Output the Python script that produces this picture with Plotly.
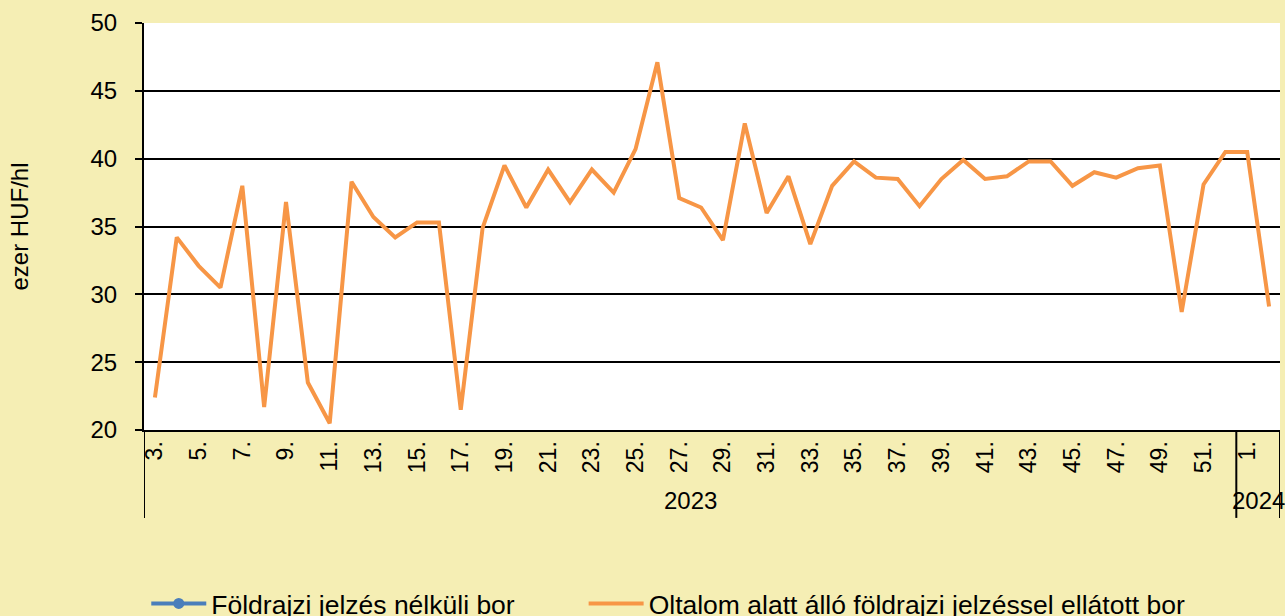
import plotly.graph_objects as go

# weeks (2023: 3-52, 2024: 1-2)
years = ['2023'] * 50 + ['2024'] * 2
weeks = [f'{w}.' for w in range(3, 53)] + ['1.', '2.']

# ezer HUF/hl
no_gi_wine = [None] * 52
pgi_wine = [22.4, 34.2, 32.1, 30.5, 38.0, 21.7, 36.8, 23.5, 20.5, 38.3,
            35.7, 34.2, 35.3, 35.3, 21.5, 34.9, 39.5, 36.4, 39.2, 36.8,
            39.2, 37.5, 40.7, 47.1, 37.1, 36.4, 34.0, 42.6, 36.0, 38.7,
            33.7, 38.0, 39.8, 38.6, 38.5, 36.5, 38.5, 39.9, 38.5, 38.7,
            39.8, 39.8, 38.0, 39.0, 38.6, 39.3, 39.5, 28.7, 38.1, 40.5,
            40.5, 29.1]

legend_names = ['Földrajzi jelzés nélküli bor',
                'Oltalom alatt álló földrajzi jelzéssel ellátott bor']

bg = '#F5EEB4'
font = 'Liberation Sans, Arial, sans-serif'

xkeys = [f'{y} {w}' for y, w in zip(years, weeks)]
tickvals = xkeys[::2]
ticktext = weeks[::2]

fig = go.Figure()
fig.add_trace(go.Scatter(x=xkeys, y=no_gi_wine, name=legend_names[0], mode='lines+markers',
                         line=dict(color='#4A7EBB', width=4), marker=dict(size=11, color='#4A7EBB'),
                         legend='legend'))
fig.add_trace(go.Scatter(x=xkeys, y=pgi_wine, name=legend_names[1], mode='lines',
                         line=dict(color='#F79646', width=4), legend='legend2'))

# year group labels and dividers under the axis
n23 = years.count('2023')
n24 = years.count('2024')
for xpos in [-0.5, n23 - 0.5, n23 + n24 - 0.5]:
    fig.add_shape(type='line', xref='x', yref='paper', x0=xpos, x1=xpos, y0=0, y1=-0.216,
                  line=dict(color='black', width=2))
fig.add_annotation(text='2023', xref='x', yref='paper', x=(n23 - 1) / 2, y=-0.172,
                   yanchor='middle', showarrow=False, font=dict(size=24, color='black'))
fig.add_annotation(text='2024', xref='x', yref='paper', x=n23 + (n24 - 1) / 2, y=-0.172,
                   yanchor='middle', showarrow=False, font=dict(size=24, color='black'))

leg_style = dict(orientation='h', xanchor='left', yref='container', y=0.02, yanchor='middle',
                 font=dict(size=26.5, color='black'), itemwidth=55, bgcolor='rgba(0,0,0,0)')

fig.update_layout(
    font_family=font,
    width=1285, height=616,
    paper_bgcolor=bg, plot_bgcolor='white',
    margin=dict(l=144, r=5, t=23, b=186, autoexpand=False),
    showlegend=True,
    legend=dict(x=0.002, **leg_style),
    legend2=dict(x=0.387, **leg_style),
    xaxis=dict(type='category', tickvals=tickvals, ticktext=ticktext, tickangle=-90,
               tickfont=dict(size=23, color='black'), showgrid=False,
               showline=True, linecolor='black', linewidth=2, ticks='',
               range=[-0.5, len(xkeys) - 0.5]),
    yaxis=dict(range=[20, 50], dtick=5, tickfont=dict(size=24, color='black'),
               showgrid=True, gridcolor='black', gridwidth=2, zeroline=False,
               showline=True, linecolor='black', linewidth=2,
               ticks='outside', ticklen=7, tickwidth=2, tickcolor='black',
               ticklabelstandoff=13,
               title=dict(text='ezer HUF/hl', font=dict(size=24, color='black'), standoff=55)),
)

fig.write_html('out.html', config={'displayModeBar': False},
               post_script="document.body.style.margin='0';")
